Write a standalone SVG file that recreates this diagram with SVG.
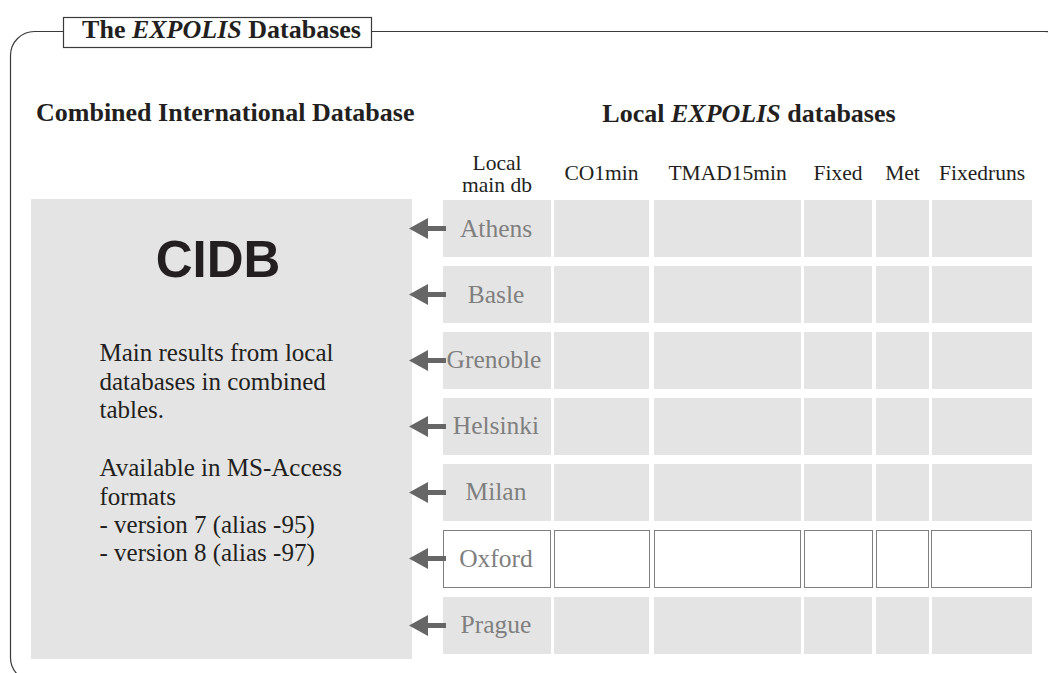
<svg xmlns="http://www.w3.org/2000/svg" width="1048" height="673" viewBox="0 0 1048 673">
<defs>
<style>
.serif{font-family:"Liberation Serif","Times New Roman",serif;fill:#231f20}
.hd{font-size:26px;font-weight:bold}
.col{font-size:21.5px;text-anchor:middle}
.row{font-size:25.5px;text-anchor:middle;fill:#7f7f7f}
.body{font-size:25px}
.cell{fill:#e4e4e4}
.ox{fill:#ffffff;stroke:#808080;stroke-width:1}
.arrow{fill:#666666}
</style>
<g id="arrowShape"><polygon points="0,0 19,-10.5 19,-2.5 37,-2.5 37,2.5 19,2.5 19,10.5"/></g>
</defs>
<rect width="1048" height="673" fill="#ffffff"/>
<g id="frame">
<rect x="10.5" y="31.5" width="1058" height="650" rx="24" ry="24" fill="none" stroke="#3a3a3a" stroke-width="1.2"/>
<rect x="63.5" y="17.5" width="308" height="30" fill="#ffffff" stroke="#3a3a3a" stroke-width="1.2"/>
<text class="serif hd" x="221.5" y="37.5" text-anchor="middle" font-size="25.5">The <tspan font-style="italic">EXPOLIS</tspan> Databases</text>
</g>
<g id="headings">
<text class="serif hd" x="36" y="121">Combined International Database</text>
<text class="serif hd" x="749" y="121.5" text-anchor="middle">Local <tspan font-style="italic">EXPOLIS</tspan> databases</text>
</g>
<g id="cidb">
<rect x="31" y="199" width="381" height="460" class="cell"/>
<text x="218" y="277" font-family="Liberation Sans, Arial, sans-serif" font-weight="bold" font-size="51" fill="#231f20" text-anchor="middle">CIDB</text>
<text class="serif body" x="99.5">
<tspan x="99.5" y="361">Main results from local</tspan>
<tspan x="99.5" y="389.5">databases in combined</tspan>
<tspan x="99.5" y="418">tables.</tspan>
<tspan x="99.5" y="476">Available in MS-Access</tspan>
<tspan x="99.5" y="504.5">formats</tspan>
<tspan x="99.5" y="533">- version 7 (alias -95)</tspan>
<tspan x="99.5" y="561">- version 8 (alias -97)</tspan>
</text>
</g>
<g id="column-headers">
<text class="serif col" x="497" y="170">Local</text>
<text class="serif col" x="497" y="192">main db</text>
<text class="serif col" x="601.5" y="180">CO1min</text>
<text class="serif col" x="727.5" y="180">TMAD15min</text>
<text class="serif col" x="838" y="180">Fixed</text>
<text class="serif col" x="902.5" y="180">Met</text>
<text class="serif col" x="982" y="180">Fixedruns</text>
</g>
<g id="row-athens">
<rect class="cell" x="443" y="200" width="108" height="57"/><rect class="cell" x="554" y="200" width="95" height="57"/><rect class="cell" x="654" y="200" width="147" height="57"/><rect class="cell" x="804" y="200" width="68" height="57"/><rect class="cell" x="876" y="200" width="53" height="57"/><rect class="cell" x="932" y="200" width="100" height="57"/>
<text class="serif row" x="496" y="237">Athens</text>
</g>
<g id="row-basle">
<rect class="cell" x="443" y="266" width="108" height="57"/><rect class="cell" x="554" y="266" width="95" height="57"/><rect class="cell" x="654" y="266" width="147" height="57"/><rect class="cell" x="804" y="266" width="68" height="57"/><rect class="cell" x="876" y="266" width="53" height="57"/><rect class="cell" x="932" y="266" width="100" height="57"/>
<text class="serif row" x="496" y="303">Basle</text>
</g>
<g id="row-grenoble">
<rect class="cell" x="443" y="332" width="108" height="57"/><rect class="cell" x="554" y="332" width="95" height="57"/><rect class="cell" x="654" y="332" width="147" height="57"/><rect class="cell" x="804" y="332" width="68" height="57"/><rect class="cell" x="876" y="332" width="53" height="57"/><rect class="cell" x="932" y="332" width="100" height="57"/>
<text class="serif row" x="494" y="368">Grenoble</text>
</g>
<g id="row-helsinki">
<rect class="cell" x="443" y="398" width="108" height="57"/><rect class="cell" x="554" y="398" width="95" height="57"/><rect class="cell" x="654" y="398" width="147" height="57"/><rect class="cell" x="804" y="398" width="68" height="57"/><rect class="cell" x="876" y="398" width="53" height="57"/><rect class="cell" x="932" y="398" width="100" height="57"/>
<text class="serif row" x="496" y="434">Helsinki</text>
</g>
<g id="row-milan">
<rect class="cell" x="443" y="464" width="108" height="57"/><rect class="cell" x="554" y="464" width="95" height="57"/><rect class="cell" x="654" y="464" width="147" height="57"/><rect class="cell" x="804" y="464" width="68" height="57"/><rect class="cell" x="876" y="464" width="53" height="57"/><rect class="cell" x="932" y="464" width="100" height="57"/>
<text class="serif row" x="496" y="500">Milan</text>
</g>
<g id="row-oxford">
<rect class="ox" x="443.5" y="530.5" width="107" height="57"/><rect class="ox" x="554.5" y="530.5" width="95" height="57"/><rect class="ox" x="654.5" y="530.5" width="146" height="57"/><rect class="ox" x="804.5" y="530.5" width="68" height="57"/><rect class="ox" x="876.5" y="530.5" width="52" height="57"/><rect class="ox" x="931.5" y="530.5" width="100" height="57"/>
<text class="serif row" x="496" y="567">Oxford</text>
</g>
<g id="row-prague">
<rect class="cell" x="443" y="597" width="108" height="57"/><rect class="cell" x="554" y="597" width="95" height="57"/><rect class="cell" x="654" y="597" width="147" height="57"/><rect class="cell" x="804" y="597" width="68" height="57"/><rect class="cell" x="876" y="597" width="53" height="57"/><rect class="cell" x="932" y="597" width="100" height="57"/>
<text class="serif row" x="496" y="633">Prague</text>
</g>
<g id="connectors" class="arrow">
<use href="#arrowShape" x="409" y="228.5"/>
<use href="#arrowShape" x="409" y="294.5"/>
<use href="#arrowShape" x="409" y="360.5"/>
<use href="#arrowShape" x="409" y="426.5"/>
<use href="#arrowShape" x="409" y="492.5"/>
<use href="#arrowShape" x="409" y="558.5"/>
<use href="#arrowShape" x="409" y="625.5"/>
</g>
</svg>
